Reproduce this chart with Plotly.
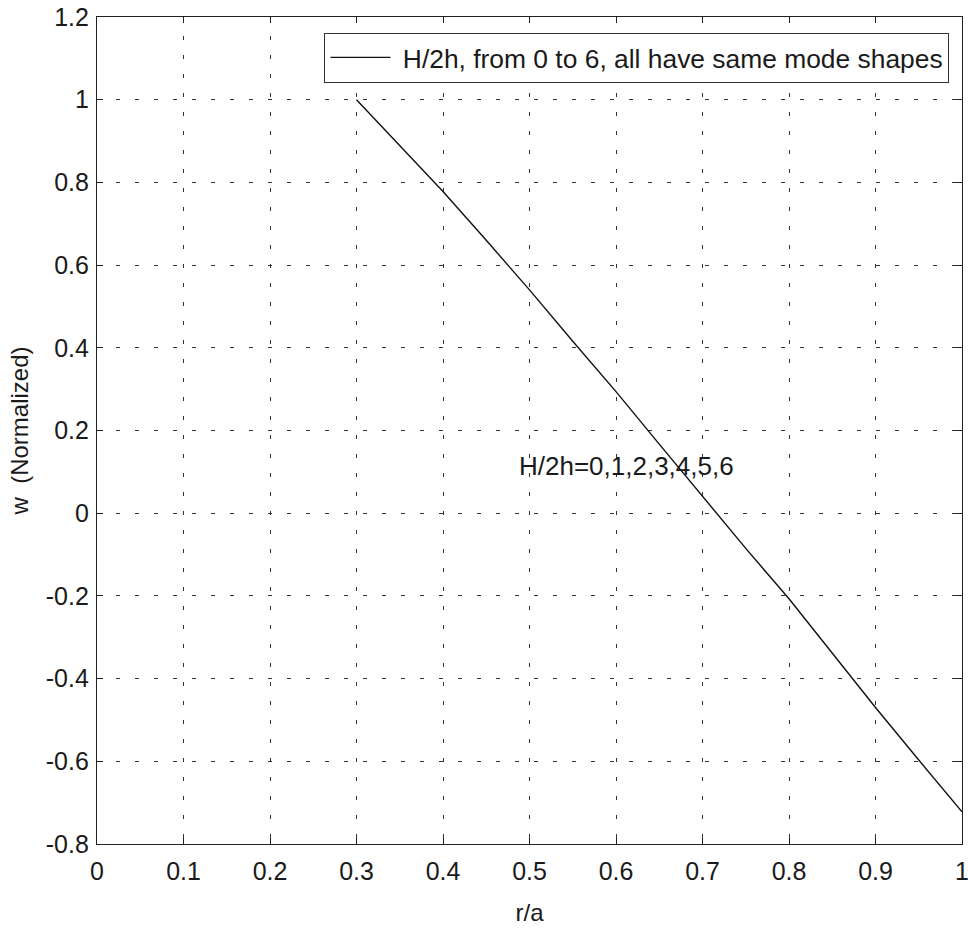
import plotly.graph_objects as go

# Data
r_over_a = [0.30, 0.35, 0.40, 0.45, 0.50, 0.55, 0.60, 0.65, 0.70, 0.75, 0.80, 0.85, 0.90, 0.95, 1.00]
w_norm = [1.000, 0.888, 0.778, 0.660, 0.540, 0.416, 0.294, 0.167, 0.040, -0.085, -0.207, -0.338, -0.470, -0.597, -0.722]

x_tick_vals = [0, 0.1, 0.2, 0.3, 0.4, 0.5, 0.6, 0.7, 0.8, 0.9, 1.0]
x_tick_text = ["0", "0.1", "0.2", "0.3", "0.4", "0.5", "0.6", "0.7", "0.8", "0.9", "1"]
y_tick_vals = [1.2, 1.0, 0.8, 0.6, 0.4, 0.2, 0.0, -0.2, -0.4, -0.6, -0.8]
y_tick_text = ["1.2", "1", "0.8", "0.6", "0.4", "0.2", "0", "-0.2", "-0.4", "-0.6", "-0.8"]

legend_label = "\u00a0H/2h, from 0 to 6, all have same mode shapes"
note_text = "H/2h=0,1,2,3,4,5,6"
note_pos = (0.486, 0.114)

FONT = "Liberation Sans, Arial, Helvetica, sans-serif"
INK = "#1a1a1a"

fig = go.Figure()
fig.add_trace(go.Scatter(
    x=r_over_a, y=w_norm, mode="lines",
    line=dict(color="#111111", width=1.4),
    name=legend_label, showlegend=True,
))

axis_common = dict(
    showline=True, linecolor="#222222", linewidth=1.2, mirror="ticks",
    ticks="inside", ticklen=6, tickcolor="#222222", tickwidth=1,
    showgrid=True, gridcolor="#333333", gridwidth=1, griddash="4px,15px",
    zeroline=False, ticklabeloverflow="allow",
    tickfont=dict(family=FONT, size=25, color=INK),
)

fig.update_xaxes(
    range=[0, 1], tickmode="array", tickvals=x_tick_vals, ticktext=x_tick_text,
    title=dict(text="r/a", font=dict(family=FONT, size=24, color=INK), standoff=20),
    ticklabelstandoff=5,
    **axis_common,
)
fig.update_yaxes(
    range=[-0.8, 1.2], tickmode="array", tickvals=y_tick_vals, ticktext=y_tick_text,
    title=dict(text="w\u00a0 (Normalized)", font=dict(family=FONT, size=24, color=INK), standoff=10),
    ticklabelstandoff=2,
    **axis_common,
)

fig.add_annotation(
    x=note_pos[0], y=note_pos[1], xref="x", yref="y", text=note_text,
    showarrow=False, xanchor="left", yanchor="middle",
    font=dict(family=FONT, size=26, color=INK),
)

fig.update_layout(
    width=968, height=931,
    margin=dict(l=97, r=6, t=17, b=87, autoexpand=False),
    paper_bgcolor="white", plot_bgcolor="white",
    font=dict(family=FONT, color=INK),
    showlegend=True,
    legend=dict(
        x=0.263, y=0.981, xanchor="left", yanchor="top",
        bgcolor="white", bordercolor="#333333", borderwidth=1,
        font=dict(family=FONT, size=26.4, color=INK),
        itemwidth=60, tracegroupgap=0,
    ),
)

fig.write_html(
    "out.html",
    config={"displayModeBar": False},
    post_script="document.body.style.margin='0';document.body.style.overflow='hidden';",
)
